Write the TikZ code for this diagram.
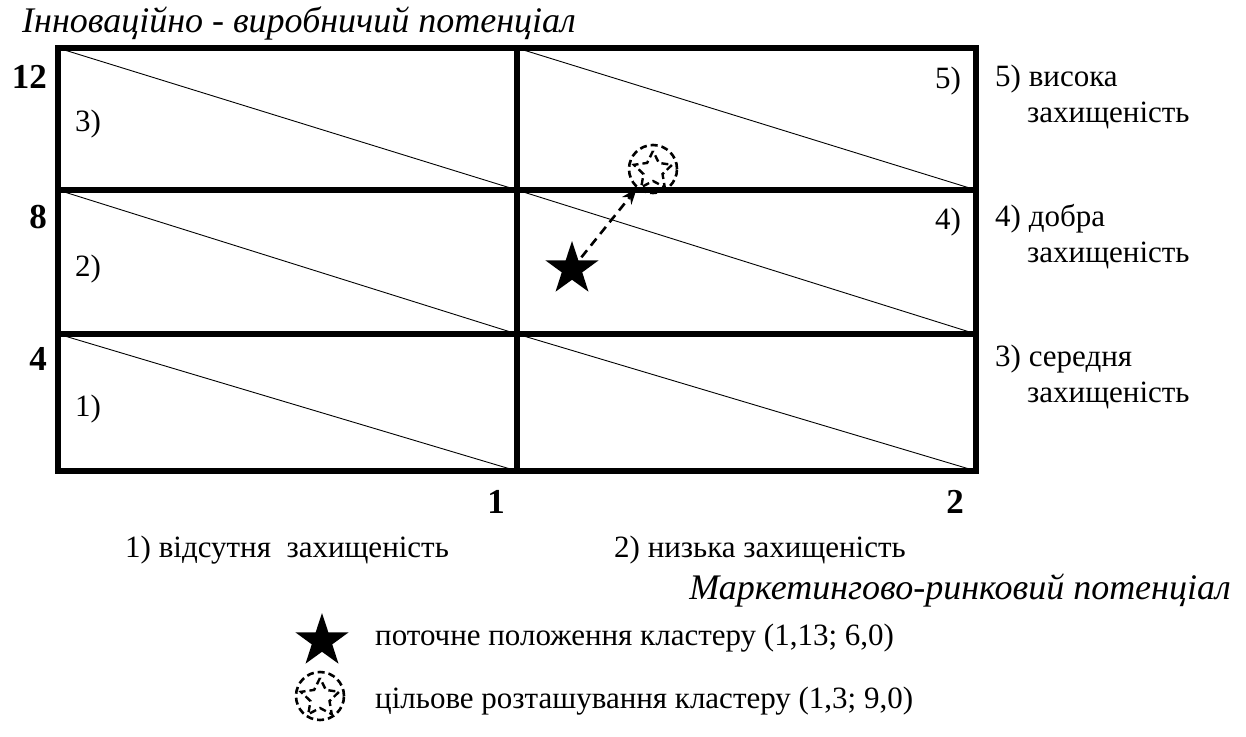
\documentclass[tikz,border=0pt]{standalone}
\usepackage{fontspec}
\setmainfont{Liberation Serif}
\usetikzlibrary{shapes.geometric, arrows.meta, positioning}

\begin{document}
\begin{tikzpicture}[x=1pt, y=-1pt,
    txt/.style   = {anchor=base west, inner sep=0pt, font=\fontsize{31}{35}\selectfont},
    axis/.style  = {inner sep=0pt, font=\fontsize{35}{40}\selectfont\bfseries},
    ttl/.style   = {inner sep=0pt, font=\fontsize{36}{40}\selectfont\itshape},
    grid/.style  = {line width=5.5pt},
    diag/.style  = {line width=0.9pt},
    cur/.style   = {star, star points=5, star point ratio=2.6, fill=black,
                    inner sep=0pt, minimum size=56pt},
    tgt/.style   = {circle, draw, line width=2.6pt, dash pattern=on 7pt off 4pt,
                    inner sep=0pt, minimum size=48pt},
    tgtin/.style = {star, star points=5, star point ratio=2.0, draw, line width=2.4pt,
                    dash pattern=on 7pt off 4pt, inner sep=0pt, minimum size=40pt},
    arr/.style   = {-{Stealth[length=16pt, width=12pt]}, line width=2.6pt,
                    dash pattern=on 9pt off 6pt},
  ]
    \useasboundingbox (0,0) rectangle (1246,736);

    % ── Grid ─────────────────────────────────────────────────
    \foreach \ya/\yb in {48/190, 190/334, 334/471}{
      \draw[diag] (58,\ya)  -- (517,\yb);
      \draw[diag] (517,\ya) -- (976,\yb);
    }
    \draw[grid] (58,48) rectangle (976,471);
    \draw[grid] (517,48) -- (517,471);
    \draw[grid] (58,190) -- (976,190);
    \draw[grid] (58,334) -- (976,334);

    % ── Axis titles and values ───────────────────────────────
    \node[ttl, anchor=base west] (ytitle) at (22,32) {Інноваційно - виробничий потенціал};
    \node[ttl, anchor=base east] (xtitle) at (1231,599) {Маркетингово-ринковий потенціал};
    \node[axis, anchor=base east] (y12) at (47,88)  {12};
    \node[axis, anchor=base east] (y8)  at (47,228) {8};
    \node[axis, anchor=base east] (y4)  at (47,370) {4};
    \node[axis, anchor=base] (x1) at (496,513) {1};
    \node[axis, anchor=base] (x2) at (955,513) {2};

    % ── Cell labels ──────────────────────────────────────────
    \node[txt] (c3) at (75,131) {3)};
    \node[txt] (c2) at (75,276) {2)};
    \node[txt] (c1) at (75,416) {1)};
    \node[txt] (c5) at (935,88)  {5)};
    \node[txt] (c4) at (935,229) {4)};

    % ── Protection levels ────────────────────────────────────
    \node[txt] (p5a) at (995,86)   {5) висока};
    \node[txt] (p5b) at (1027,122) {захищеність};
    \node[txt] (p4a) at (995,226)  {4) добра};
    \node[txt] (p4b) at (1027,262) {захищеність};
    \node[txt] (p3a) at (995,366)  {3) середня};
    \node[txt] (p3b) at (1027,402) {захищеність};
    \node[txt] (p1)  at (125,557)  {1) відсутня\ \ захищеність};
    \node[txt] (p2)  at (614,557)  {2) низька захищеність};

    % ── Cluster position ─────────────────────────────────────
    \node[cur] (now) at (572,269) {};
    \node[tgt] (goal) at (653,169) {};
    \node[tgtin] (goalin) at (653,171) {};
    \draw[arr] (now.center) -- (goal.230);

    % ── Legend ───────────────────────────────────────────────
    \node[cur] (legnow) at (322,641) {};
    \node[txt] (legnowt) at (375,645) {поточне положення кластеру (1,13; 6,0)};
    \node[tgt] (leggoal) at (320,696) {};
    \node[tgtin] (leggoalin) at (320,698) {};
    \node[txt] (leggoalt) at (375,708) {цільове розташування кластеру (1,3; 9,0)};

  \end{tikzpicture}
\end{document}
